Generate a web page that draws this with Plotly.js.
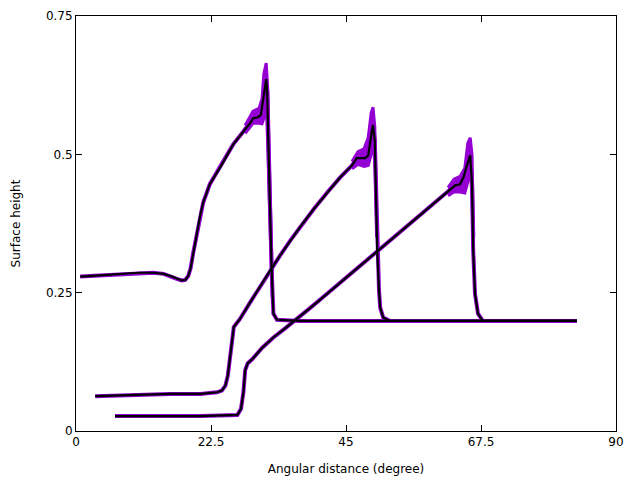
<!DOCTYPE html>
<html>
<head>
<meta charset="utf-8">
<script src="https://cdn.plot.ly/plotly-3.0.1.min.js"></script>
<style>html,body{margin:0;padding:0;background:#fff;}#chart{width:640px;height:480px;}</style>
</head>
<body>
<div id="chart"></div>
<script>
// Curve 1 (mean)
var c1x = [0.7, 4.0, 7.3, 10.5, 12.9, 14.6, 15.8, 16.8, 17.6, 18.2, 18.7, 19.1, 19.5, 20.2, 20.7, 21.2, 22.3, 24.0, 25.2, 26.2, 27.8, 29.0, 29.5, 30.3, 30.8, 31.0, 31.3, 31.7, 31.85, 32.0, 32.3, 32.6, 32.9, 33.5, 37.3, 60.0, 83.5];
var c1y = [0.279, 0.281, 0.284, 0.286, 0.286, 0.284, 0.280, 0.275, 0.272, 0.273, 0.280, 0.294, 0.320, 0.362, 0.390, 0.413, 0.446, 0.476, 0.498, 0.518, 0.540, 0.556, 0.565, 0.567, 0.571, 0.587, 0.612, 0.636, 0.616, 0.525, 0.417, 0.295, 0.212, 0.201, 0.199, 0.199, 0.199];
// Curve 2 (mean)
var c2x = [3.2, 9.0, 15.7, 20.7, 23.5, 24.3, 24.9, 25.3, 25.7, 26.0, 26.3, 26.8, 27.3, 29.0, 30.7, 32.3, 34.0, 35.7, 37.3, 39.7, 42.0, 44.0, 46.0, 46.8, 48.2, 48.7, 49.2, 49.5, 49.8, 50.0, 50.2, 50.5, 50.7, 51.2, 52.3, 83.5];
var c2y = [0.063, 0.065, 0.067, 0.067, 0.070, 0.073, 0.082, 0.100, 0.136, 0.172, 0.188, 0.195, 0.202, 0.232, 0.262, 0.289, 0.317, 0.344, 0.368, 0.402, 0.433, 0.458, 0.480, 0.493, 0.493, 0.498, 0.534, 0.553, 0.525, 0.435, 0.326, 0.254, 0.223, 0.205, 0.199, 0.199];
// Curve 3 (mean)
var c3x = [6.5, 14.0, 20.7, 26.9, 27.5, 27.9, 28.2, 28.6, 29.4, 31.0, 32.9, 34.9, 36.8, 39.0, 41.2, 43.5, 45.7, 47.3, 50.1, 52.3, 54.6, 56.5, 58.5, 60.7, 62.3, 63.2, 64.0, 64.6, 65.1, 65.7, 66.0, 66.2, 66.5, 67.0, 67.8, 83.5];
var c3y = [0.027, 0.027, 0.027, 0.029, 0.040, 0.070, 0.110, 0.122, 0.130, 0.150, 0.169, 0.186, 0.202, 0.222, 0.242, 0.263, 0.283, 0.298, 0.324, 0.344, 0.365, 0.383, 0.401, 0.420, 0.435, 0.444, 0.446, 0.459, 0.478, 0.498, 0.447, 0.326, 0.248, 0.212, 0.199, 0.199];
// Ensemble spread near the peaks
var b1x = [28.2, 29.5, 30.5, 31.0, 31.3, 31.7, 32.0, 32.3, 32.7];
var b1hi = [0.552, 0.578, 0.583, 0.600, 0.645, 0.665, 0.610, 0.450, 0.280];
var b1lo = [0.538, 0.556, 0.556, 0.555, 0.565, 0.600, 0.500, 0.400, 0.240];
var b2x = [46.0, 47.0, 48.0, 48.7, 49.2, 49.5, 49.8, 50.1];
var b2hi = [0.487, 0.505, 0.510, 0.530, 0.575, 0.585, 0.550, 0.400];
var b2lo = [0.474, 0.482, 0.478, 0.480, 0.500, 0.530, 0.480, 0.350];
var b3x = [62.0, 63.0, 64.0, 64.8, 65.3, 65.7, 66.0, 66.3];
var b3hi = [0.440, 0.455, 0.460, 0.475, 0.520, 0.530, 0.500, 0.350];
var b3lo = [0.425, 0.432, 0.432, 0.430, 0.450, 0.480, 0.420, 0.300];

var xTicks = [0, 22.5, 45, 67.5, 90];
var xTickText = ['0', '22.5', '45', '67.5', '90'];
var yTicks = [0, 0.25, 0.5, 0.75];
var yTickText = ['0', '0.25', '0.5', '0.75'];

var purple = '#9400d3';
var traces = [];
function band(x, hi, lo) {
  traces.push({x: x, y: hi, mode: 'lines', line: {color: purple, width: 3}, hoverinfo: 'skip', showlegend: false});
  traces.push({x: x, y: lo, mode: 'lines', line: {color: purple, width: 3}, fill: 'tonexty', fillcolor: purple, hoverinfo: 'skip', showlegend: false});
}
band(b1x, b1hi, b1lo);
band(b2x, b2hi, b2lo);
band(b3x, b3hi, b3lo);
[[c1x, c1y], [c2x, c2y], [c3x, c3y]].forEach(function (c) {
  traces.push({x: c[0], y: c[1], mode: 'lines', line: {color: purple, width: 4}, showlegend: false});
});
[[c1x, c1y], [c2x, c2y], [c3x, c3y]].forEach(function (c) {
  traces.push({x: c[0], y: c[1], mode: 'lines', line: {color: '#000000', width: 2.2}, showlegend: false});
});

var font = {family: 'DejaVu Sans, sans-serif', size: 12, color: '#000'};
var layout = {
  width: 640, height: 480,
  margin: {l: 76, r: 24, t: 16, b: 49},
  paper_bgcolor: '#fff', plot_bgcolor: '#fff',
  font: font,
  showlegend: false,
  xaxis: {
    range: [0, 90], tickvals: xTicks, ticktext: xTickText,
    ticks: 'inside', ticklen: 6, tickcolor: '#000', mirror: 'ticks',
    showline: true, linecolor: '#000', linewidth: 1, showgrid: false, zeroline: false,
    tickfont: font,
    title: {text: 'Angular distance (degree)', font: font, standoff: 16}
  },
  yaxis: {
    range: [0, 0.75], tickvals: yTicks, ticktext: yTickText,
    ticks: 'inside', ticklen: 6, tickcolor: '#000', mirror: 'ticks',
    showline: true, linecolor: '#000', linewidth: 1, showgrid: false, zeroline: false,
    tickfont: font,
    title: {text: 'Surface height', font: font, standoff: 22}
  }
};
Plotly.newPlot('chart', traces, layout, {displayModeBar: false, staticPlot: true});
</script>
</body>
</html>
